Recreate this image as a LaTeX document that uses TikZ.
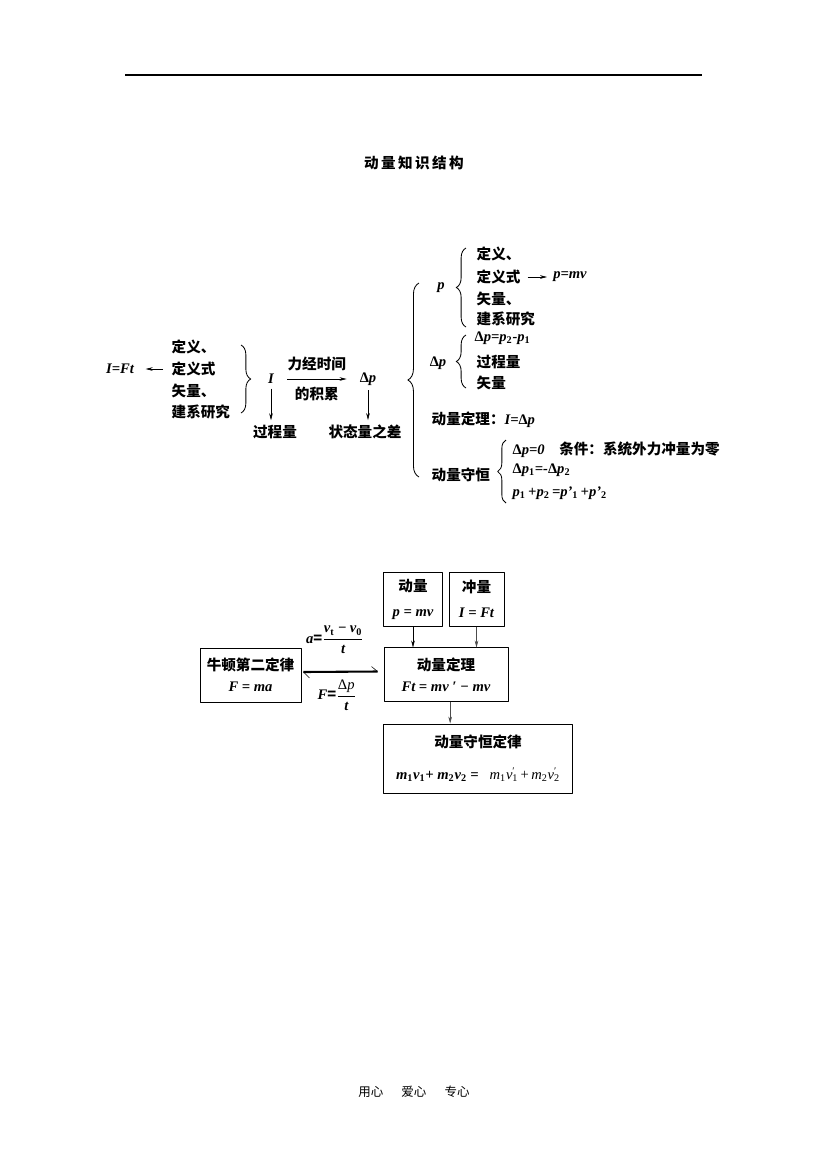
\documentclass[tikz,border=0pt]{standalone}
\usepackage{fontspec}
\setmainfont{Liberation Serif}
\newfontfamily\cjk{Noto Sans CJK SC}
\usetikzlibrary{arrows.meta,decorations.pathreplacing}
\newcommand{\vb}[1]{{\rmfamily\bfseries\itshape #1}}
\newcommand{\vr}[1]{{\rmfamily\mdseries\itshape #1}}
\newcommand{\dl}{{\upshape Δ}}
\tikzset{
  lbl/.style={inner sep=1pt, anchor=west},
  kbox/.style={draw, line width=0.7pt, align=center, inner sep=0pt},
  brc/.style={decorate, decoration={brace, amplitude=#1}, line width=0.6pt},
  brc/.default=7pt
}
\begin{document}
\begin{tikzpicture}[x=0.72pt, y=-0.72pt, font=\cjk\bfseries\fontsize{10.5}{12}\selectfont, line join=round, >={Stealth[length=5pt,width=2.6pt]}]
	\useasboundingbox (0,0) rectangle (826,1169);
	% page head and foot
	\coordinate (H1) at (125,75);
	\coordinate (H2) at (702,75);
	\draw[line width=0.8pt] (H1)--(H2);
	\node (title) at (414,163) {动\,量\,知\,识\,结\,构};
	\node[font=\cjk\mdseries\fontsize{9}{10}\selectfont] (foot) at (414,1092) {用心\hspace{13pt}爱心\hspace{13pt}专心};
	% upper part
	\node[lbl] (d1) at (170,347) {定义、};
	\node[lbl] (d2) at (170,369) {定义式};
	\node[lbl] (d3) at (170,391) {矢量、};
	\node[lbl] (d4) at (170,412) {建系研究};
	\node (ift) at (120,369) {\vb{I=Ft}};
	\draw[->, shorten <=5pt, shorten >=5pt] (d2) -- (ift);
	\draw[brc] (241,345) -- (241,413);
	\node (I) at (271,379) {\vb{I}};
	\node (dp) at (368,379) {\vb{\dl p}};
	\draw[->, shorten <=6pt, shorten >=6pt] (I) -- (dp)
		node[midway, above=2pt] {力经时间} node[midway, below=2pt] {的积累};
	\node (gc) at (275,432) {过程量};
	\node (zt) at (365,432) {状态量之差};
	\draw[->] (I.south) -- (I.south |- gc.north);
	\draw[->] (dp.south) -- (dp.south |- zt.north);
	\draw[brc=8pt] (419,477) -- (419,283);
	% p
	\node (p) at (441,288) {\vb{p}};
	\draw[brc] (466,327) -- (466,248);
	\node[lbl] (p1) at (475,254) {定义、};
	\node[lbl] (p2) at (475,277) {定义式};
	\node[lbl] (p3) at (475,299) {矢量、};
	\node[lbl] (p4) at (475,319) {建系研究};
	\node (pmv) at (570,277) {\vb{p=mv}};
	\draw[->, shorten <=4pt, shorten >=1pt] (p2) -- (pmv);
	% delta p
	\node (dp2) at (438,363) {\vb{\dl p}};
	\draw[brc] (466,388) -- (466,335);
	\node[lbl] (q1) at (473,338) {\vb{\dl p=p}\textsubscript{\rmfamily 2}\vb{-p}\textsubscript{\rmfamily 1}};
	\node[lbl] (q2) at (475,362) {过程量};
	\node[lbl] (q3) at (475,383) {矢量};
	\node[lbl] (thm1) at (430,420) {动量定理：\vb{I=\dl p}};
	\node[lbl] (cons1) at (430,475) {动量守恒};
	\draw[brc=6pt] (506,503) -- (506,440);
	\node[lbl] (c1) at (511,450) {\vb{\dl p=0}\quad 条件：系统外力冲量为零};
	\node[lbl] (c2) at (511,470) {\vb{\dl p}\textsubscript{\rmfamily 1}\vb{=-\dl p}\textsubscript{\rmfamily 2}};
	\node[lbl] (c3) at (511,493) {\vb{p}\textsubscript{\rmfamily 1}\vb{\,+p}\textsubscript{\rmfamily 2}\vb{\,=p’}\textsubscript{\rmfamily 1}\vb{\,+p’}\textsubscript{\rmfamily 2}};
	% lower part
	\node[kbox, minimum width=41.8pt, minimum height=38.9pt] (mom) at (413,599) {动量\\[6pt]\vb{p = mv}};
	\node[kbox, minimum width=39.6pt, minimum height=38.9pt] (imp) at (476.5,599) {冲量\\[6pt]\vb{I = Ft}};
	\node[kbox, minimum width=89.3pt, minimum height=38.2pt] (thm) at (446,674.5) {动量定理\\[3pt]\vb{Ft = mv ′ − mv}};
	\node[kbox, minimum width=72.7pt, minimum height=38.9pt] (newt) at (250.5,675) {牛顿第二定律\\[3pt]\vb{F = ma}};
	\node[kbox, minimum width=135.4pt, minimum height=49.7pt] (cons) at (478,758.5) {动量守恒定律\\[11pt]\vb{m}\textsubscript{\rmfamily 1}\vb{v}\textsubscript{\rmfamily 1}\vb{+ m}\textsubscript{\rmfamily 2}\vb{v}\textsubscript{\rmfamily 2}\vb{ = }\enspace\vr{m}\textsubscript{\rmfamily\mdseries 1}\vr{v}\rlap{\textsuperscript{\rmfamily\mdseries ′}}\textsubscript{\rmfamily\mdseries 1}\,{\rmfamily\mdseries +}\,\vr{m}\textsubscript{\rmfamily\mdseries 2}\vr{v}\rlap{\textsuperscript{\rmfamily\mdseries ′}}\textsubscript{\rmfamily\mdseries 2}};
	\draw[->] (mom.south) -- (mom.south |- thm.north);
	\draw[->, gray!60!black] (imp.south) -- (imp.south |- thm.north);
	\draw[->, gray!60!black] ([xshift=3pt]thm.south) -- ([xshift=3pt]thm.south |- cons.north);
	\draw[line width=1.5pt] ([shift={(2,-3)}]newt.east) coordinate (hl) -- ([shift={(-6,-3)}]thm.west) coordinate (hr);
	\draw (hl) -- ++(6,6);
	\draw (hr) -- ++(-6,-5);
	\node (acc) at (335,640) {\vb{a}=$\displaystyle\frac{\hbox{\vb{v}\textsubscript{\rmfamily t} \vb{−} \vb{v}\textsubscript{\rmfamily 0}}}{\hbox{\vb{t}}}$};
	\node (frc) at (337,695) {\vb{F}=$\displaystyle\frac{\hbox{\vr{\dl p}}}{\hbox{\vb{t}}}$};
\end{tikzpicture}
\end{document}
